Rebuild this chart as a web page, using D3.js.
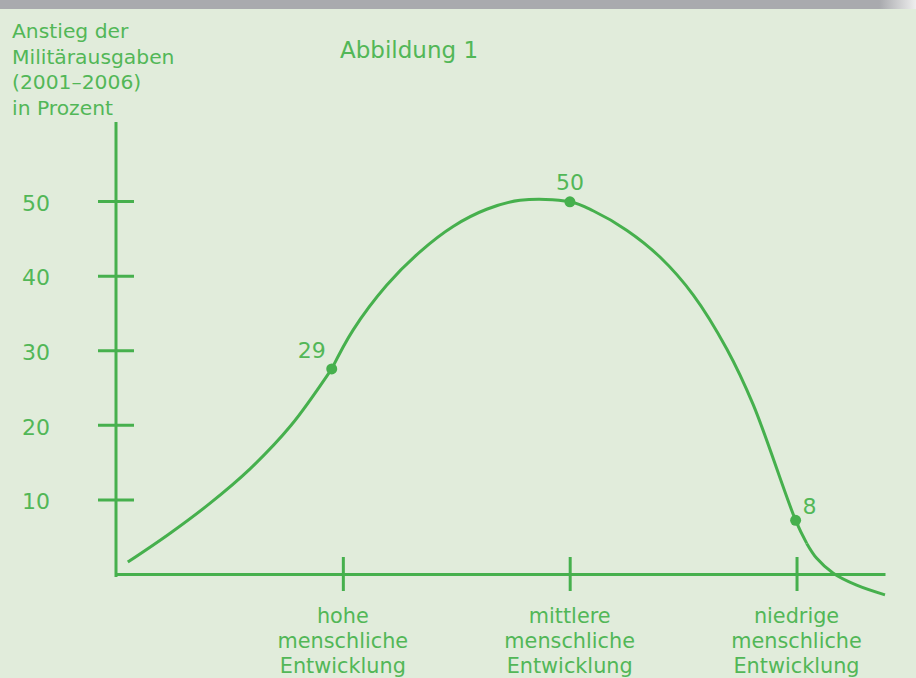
<!DOCTYPE html>
<html>
<head>
<meta charset="utf-8">
<script src="https://cdn.jsdelivr.net/npm/d3@7"></script>
<style>
  html, body { margin: 0; padding: 0; background: #e1ecdb; }
  svg { display: block; }
  text { font-family: "DejaVu Sans", sans-serif; fill: #52b757; }
</style>
</head>
<body>
<div id="chart"></div>
<script>
// curve (x: position along the development axis, y: percent)
var curveX = [0.052, 0.231, 0.411, 0.591, 0.771, 0.951, 1.045, 1.193, 1.34, 1.486, 1.634, 1.781, 2.001, 2.103, 2.251, 2.398, 2.545, 2.692, 2.809, 2.996, 3.045, 3.089, 3.162, 3.265, 3.39];
var curveY = [1.6, 5.3, 9.4, 14.1, 19.9, 27.5, 32.7, 38.7, 43.2, 46.6, 48.9, 50.1, 49.9, 48.7, 46.1, 42.5, 37.4, 30.2, 22.7, 7.2, 4.1, 2.1, 0.1, -1.5, -2.8];
// the line has corners at these indices
var curveBreaks = [5, 20];

// marked points
var pointX = [0.951, 2.001, 2.996];
var pointY = [27.5, 49.9, 7.2];
var pointLabels = ["29", "50", "8"];

var yTicks = [10, 20, 30, 40, 50];
var categoryX = [1, 2, 3];
var categoryLabels = [
  ["hohe", "menschliche", "Entwicklung"],
  ["mittlere", "menschliche", "Entwicklung"],
  ["niedrige", "menschliche", "Entwicklung"]
];
var yTitle = ["Anstieg der", "Militärausgaben", "(2001–2006)", "in Prozent"];
var title = "Abbildung 1";

var width = 916, height = 678;
var green = "#46b04d";

var svg = d3.select("#chart")
  .append("svg")
  .attr("width", width)
  .attr("height", height);

// grey strip on top
var defs = svg.append("defs");
var grad = defs.append("linearGradient").attr("id", "topbar");
grad.append("stop").attr("offset", "0%").attr("stop-color", "#a9aaae");
grad.append("stop").attr("offset", "96%").attr("stop-color", "#a9aaae");
grad.append("stop").attr("offset", "100%").attr("stop-color", "#eeeeee");

svg.append("rect")
  .attr("width", width)
  .attr("height", height)
  .attr("fill", "#e1ecdb");

svg.append("rect")
  .attr("width", width)
  .attr("height", 9)
  .attr("fill", "url(#topbar)");

var x = d3.scaleLinear().domain([0, 3.39]).range([116, 885]);
var y = d3.scaleLinear().domain([0, 60.6]).range([574, 122]);

// Y axis
var yAxis = svg.append("g")
  .attr("transform", "translate(" + x(0) + ",0)")
  .call(d3.axisLeft(y).tickValues(yTicks).tickSize(0).tickPadding(66));

yAxis.select(".domain")
  .attr("stroke", green)
  .attr("stroke-width", 3)
  .attr("d", "M0," + (y(0) + 3) + "V" + y.range()[1]);

yAxis.selectAll(".tick line")
  .attr("stroke", green)
  .attr("stroke-width", 3)
  .attr("x1", -18)
  .attr("x2", 18);

yAxis.selectAll(".tick text")
  .attr("dy", "0.42em")
  .style("font-size", "22px")
  .style("fill", "#52b757");

// X axis
var xAxis = svg.append("g")
  .attr("transform", "translate(0," + y(0) + ")")
  .call(d3.axisBottom(x).tickValues(categoryX).tickSize(0).tickFormat(""));

xAxis.select(".domain")
  .attr("stroke", green)
  .attr("stroke-width", 3);

xAxis.selectAll(".tick line")
  .attr("stroke", green)
  .attr("stroke-width", 3)
  .attr("y1", -17)
  .attr("y2", 17);

xAxis.selectAll(".tick text").remove();

categoryLabels.forEach(function(lines, i) {
  var t = svg.append("text")
    .attr("x", x(categoryX[i]))
    .attr("y", 623)
    .attr("text-anchor", "middle")
    .style("font-size", "20.8px");
  lines.forEach(function(l, j) {
    t.append("tspan")
      .attr("x", x(categoryX[i]))
      .attr("dy", j == 0 ? 0 : 25)
      .text(l);
  });
});

// Curve, drawn in pieces so the corners stay sharp
var cuts = [0].concat(curveBreaks).concat([curveX.length - 1]);
var line = d3.line()
  .x(function(d) { return x(d[0]); })
  .y(function(d) { return y(d[1]); })
  .curve(d3.curveCatmullRom.alpha(0.5));

for (var s = 0; s < cuts.length - 1; s++) {
  var seg = [];
  for (var k = cuts[s]; k <= cuts[s + 1]; k++) seg.push([curveX[k], curveY[k]]);
  svg.append("path")
    .datum(seg)
    .attr("fill", "none")
    .attr("stroke", green)
    .attr("stroke-width", 3)
    .attr("stroke-linejoin", "round")
    .attr("d", line);
}

// points + labels
var labelDx = [-6, 0, 7];
var labelDy = [-11, -12, -6];
var labelAnchor = ["end", "middle", "start"];

svg.selectAll(".pt")
  .data(pointX)
  .enter()
  .append("circle")
  .attr("class", "pt")
  .attr("cx", function(d) { return x(d); })
  .attr("cy", function(d, i) { return y(pointY[i]); })
  .attr("r", 5.5)
  .attr("fill", green);

svg.selectAll(".ptlabel")
  .data(pointLabels)
  .enter()
  .append("text")
  .attr("class", "ptlabel")
  .attr("x", function(d, i) { return x(pointX[i]) + labelDx[i]; })
  .attr("y", function(d, i) { return y(pointY[i]) + labelDy[i]; })
  .attr("text-anchor", function(d, i) { return labelAnchor[i]; })
  .style("font-size", "22px")
  .text(function(d) { return d; });

// titles
var yt = svg.append("text")
  .attr("x", 12)
  .attr("y", 38)
  .style("font-size", "20.3px");
yTitle.forEach(function(l, j) {
  yt.append("tspan")
    .attr("x", 12)
    .attr("dy", j == 0 ? 0 : 25.5)
    .text(l);
});

svg.append("text")
  .attr("x", 340)
  .attr("y", 58)
  .style("font-size", "23px")
  .text(title);
</script>
</body>
</html>
